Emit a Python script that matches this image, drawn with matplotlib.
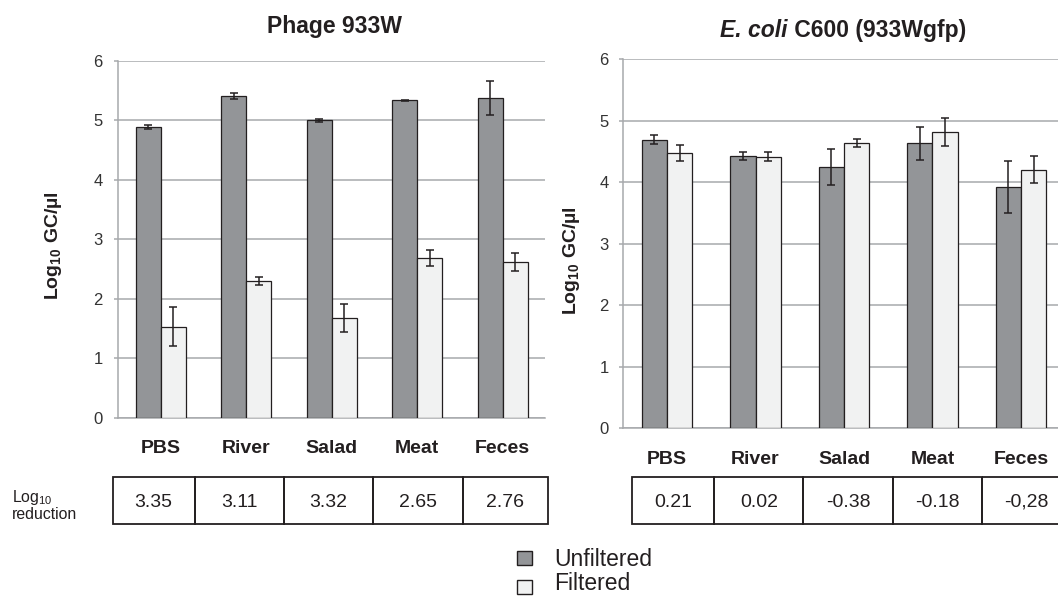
import numpy as np
import matplotlib
matplotlib.use('Agg')
import matplotlib.pyplot as plt
from matplotlib.patches import Rectangle

plt.rcParams['font.family'] = ['Liberation Sans', 'DejaVu Sans']
plt.rcParams['mathtext.fontset'] = 'custom'
plt.rcParams['mathtext.rm'] = 'Liberation Sans'
plt.rcParams['mathtext.bf'] = 'Liberation Sans:bold'

samples = ['PBS', 'River', 'Salad', 'Meat', 'Feces']
series = ['Unfiltered', 'Filtered']

# phage 933W, log10 GC/ul
phage_unf = [4.89, 5.41, 5.00, 5.34, 5.38]
phage_unf_err = [0.03, 0.05, 0.02, 0.01, 0.29]
phage_fil = [1.53, 2.30, 1.68, 2.69, 2.62]
phage_fil_err = [0.33, 0.06, 0.24, 0.13, 0.15]
phage_red = ['3.35', '3.11', '3.32', '2.65', '2.76']

# E. coli C600 (933Wgfp)
ecoli_unf = [4.69, 4.43, 4.25, 4.63, 3.92]
ecoli_unf_err = [0.07, 0.065, 0.29, 0.27, 0.42]
ecoli_fil = [4.48, 4.41, 4.63, 4.81, 4.20]
ecoli_fil_err = [0.13, 0.075, 0.065, 0.23, 0.22]
ecoli_red = ['0.21', '0.02', '-0.38', '-0.18', '-0,28']

UNF = '#939598'
FIL = '#f1f2f2'
EDGE = '#231f20'
GRID = '#a7a9ac'

W, H = 1058, 596
fig = plt.figure(figsize=(W/100, H/100), dpi=100)


def box(x0, y0, x1, y1):
    # pixel box (top-left origin) -> figure fraction
    return [x0/W, 1 - y1/H, (x1 - x0)/W, (y1 - y0)/H]


def panel(ax, unf, unf_err, fil, fil_err, width, xmax, xpad, ypad):
    x = np.arange(len(samples))
    ekw = dict(ecolor=EDGE, elinewidth=1.1, capsize=2.9, capthick=1.1)
    ax.bar(x - width/2, unf, width, yerr=unf_err, color=UNF, edgecolor=EDGE,
           lw=0.9, error_kw=ekw, zorder=3)
    ax.bar(x + width/2, fil, width, yerr=fil_err, color=FIL, edgecolor=EDGE,
           lw=0.9, error_kw=ekw, zorder=3)
    ax.set_xlim(-0.5, xmax)
    ax.set_ylim(0, 6)
    ax.set_yticks(range(7))
    ax.set_xticks(x, samples, fontweight='bold', fontsize=14)
    ax.tick_params(axis='x', length=0, pad=xpad, colors=EDGE)
    ax.tick_params(axis='y', direction='out', length=3, width=1.1,
                   color=GRID, labelsize=12, labelcolor='#333333', pad=ypad)
    ax.yaxis.grid(True, color=GRID, lw=1.1)
    ax.set_axisbelow(True)
    for s in ['top', 'right']:
        ax.spines[s].set_visible(False)
    for s in ['left', 'bottom']:
        ax.spines[s].set_color(GRID)
        ax.spines[s].set_linewidth(1.1)


ax1 = fig.add_axes(box(117.9, 61, 545.4, 417.7))
panel(ax1, phage_unf, phage_unf_err, phage_fil, phage_fil_err,
      0.292, 4.5, 15.9, 8)
ax2 = fig.add_axes(box(622.9, 59, 1058, 428.3))
panel(ax2, ecoli_unf, ecoli_unf_err, ecoli_fil, ecoli_fil_err,
      0.286, 4.42, 16.2, 7.3)

# overlay in pixel coordinates for titles, tables and legend
ov = fig.add_axes([0, 0, 1, 1])
ov.set_xlim(0, W)
ov.set_ylim(H, 0)
ov.axis('off')

ov.text(334.6, 33, 'Phage 933W', ha='center', va='baseline', fontsize=16.5,
        fontweight='bold', color=EDGE)
t1 = ov.text(720, 37.3, 'E. coli', ha='left', va='baseline', fontsize=16.5,
             fontweight='bold', fontstyle='italic', color=EDGE)
ov.annotate(' C600 (933Wgfp)', xy=(1, 0), xycoords=t1, ha='left',
            va='bottom', fontsize=16.5, fontweight='bold', color=EDGE)

ylab = r'Log$_{\mathbf{10}}$ GC/µl'
ov.text(53, 246, ylab, rotation=90, ha='center', va='center', fontsize=14,
        fontweight='bold', color=EDGE)
ov.text(571, 261, ylab, rotation=90, ha='center', va='center', fontsize=14,
        fontweight='bold', color=EDGE)

ov.text(11.7, 501.7, r'Log$_{10}$', ha='left', va='baseline', fontsize=11.4,
        color=EDGE)
ov.text(11.7, 519.3, 'reduction', ha='left', va='baseline', fontsize=11.4,
        color=EDGE)


def table(edges, top, bottom, values):
    for i, v in enumerate(values):
        ov.add_patch(Rectangle((edges[i], top), edges[i+1] - edges[i],
                               bottom - top, fill=False, ec=EDGE, lw=1.3))
        ov.text((edges[i] + edges[i+1])/2, 506.7, v, ha='center',
                va='baseline', fontsize=14, color=EDGE)


table([112.8, 194.6, 283.9, 373.2, 462.5, 547.5], 476.7, 523.5, phage_red)
table([632.2, 714.2, 803.4, 892.6, 981.8, 1071], 476.7, 523.5, ecoli_red)

# legend
for i, (name, c) in enumerate(zip(series, [UNF, FIL])):
    y0 = 550.5 + 29*i
    ov.add_patch(Rectangle((517, y0), 15, 14.3, fc=c, ec=EDGE, lw=1.0))
    ov.text(554, y0 + 15.5 - 5*i, name, ha='left', va='baseline',
            fontsize=16.5, color=EDGE)

fig.savefig('out.png', dpi=100)
